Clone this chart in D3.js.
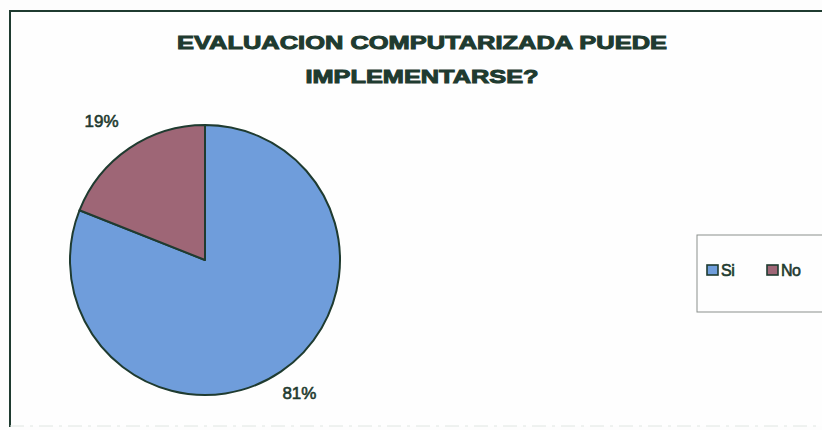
<!DOCTYPE html>
<html>
<head>
<meta charset="utf-8">
<script src="https://cdn.jsdelivr.net/npm/d3@7"></script>
<style>
  body { margin: 0; background: #fdfdfd; }
  svg { display: block; }
</style>
</head>
<body>
<svg width="822" height="430"></svg>
<script>
// chart data
var categories = ["Si", "No"];
var values = [81, 19];
var colors = ["#6f9ddb", "#9e6676"];
var titleLines = ["EVALUACION COMPUTARIZADA PUEDE", "IMPLEMENTARSE?"];

var svg = d3.select("svg");
var ink = "#1f3b30";

// outer frame (top + left strong, bottom faint like the scan)
svg.append("rect")
  .attr("x", 10).attr("y", 11)
  .attr("width", 830).attr("height", 415)
  .attr("fill", "#fefefe");
svg.append("path")
  .attr("d", "M10,427V11H822")
  .attr("fill", "none")
  .attr("stroke", ink).attr("stroke-width", 2);
svg.append("line")
  .attr("x1", 10).attr("x2", 822).attr("y1", 426).attr("y2", 426)
  .attr("stroke", "#dfe6e1").attr("stroke-width", 1.2)
  .attr("stroke-dasharray", "14,6,3,6");

// title
svg.selectAll(".title")
  .data(titleLines)
  .enter().append("text")
  .attr("class", "title")
  .attr("x", 422)
  .attr("y", function(d, i) { return 49 + i * 34; })
  .attr("text-anchor", "middle")
  .attr("font-family", "Liberation Sans, Arial, sans-serif")
  .attr("font-weight", "bold")
  .attr("font-size", 19)
  .attr("fill", ink)
  .attr("stroke", ink).attr("stroke-width", 1)
  .attr("textLength", function(d, i) { return i == 0 ? 490 : 233; })
  .attr("lengthAdjust", "spacingAndGlyphs")
  .text(function(d) { return d; });

var cx = 205, cy = 260, r = 135;

var pie = d3.pie().sort(null).value(function(d) { return d; });
var arcs = pie(values);
var arc = d3.arc().innerRadius(0).outerRadius(r);
var labelArc = d3.arc().innerRadius(168).outerRadius(168);

var g = svg.append("g").attr("transform", "translate(" + cx + "," + cy + ")");

g.selectAll("path")
  .data(arcs)
  .enter().append("path")
  .attr("d", arc)
  .attr("fill", function(d, i) { return colors[i]; })
  .attr("stroke", ink)
  .attr("stroke-width", 2)
  .attr("stroke-linejoin", "round");

g.selectAll(".lbl")
  .data(arcs)
  .enter().append("text")
  .attr("class", "lbl")
  .attr("transform", function(d, i) {
    var c = labelArc.centroid(d);
    return "translate(" + (c[0] + (i == 1 ? -9 : 0)) + "," + (c[1] + 6 + (i == 0 ? -6 : 0)) + ")";
  })
  .attr("text-anchor", "middle")
  .attr("font-family", "Liberation Sans, Arial, sans-serif")
  .attr("font-size", 17)
  .attr("fill", ink)
  .attr("stroke", ink).attr("stroke-width", 0.6)
  .text(function(d) { return d.data + "%"; });

// legend
var legend = svg.append("g");
legend.append("rect")
  .attr("x", 697).attr("y", 235)
  .attr("width", 140).attr("height", 77)
  .attr("fill", "#fefefe")
  .attr("stroke", "#8a8f8c").attr("stroke-width", 1);

var item = legend.selectAll(".item")
  .data(categories)
  .enter().append("g")
  .attr("class", "item")
  .attr("transform", function(d, i) { return "translate(" + (707 + i * 60) + ",265)"; });

item.append("rect")
  .attr("width", 11).attr("height", 10)
  .attr("fill", function(d, i) { return colors[i]; })
  .attr("stroke", ink).attr("stroke-width", 1.6);

item.append("text")
  .attr("x", 14).attr("y", 11)
  .attr("font-family", "Liberation Sans, Arial, sans-serif")
  .attr("font-size", 16)
  .attr("fill", ink)
  .attr("stroke", ink).attr("stroke-width", 0.6)
  .attr("letter-spacing", -0.5)
  .text(function(d) { return d; });
</script>
</body>
</html>
